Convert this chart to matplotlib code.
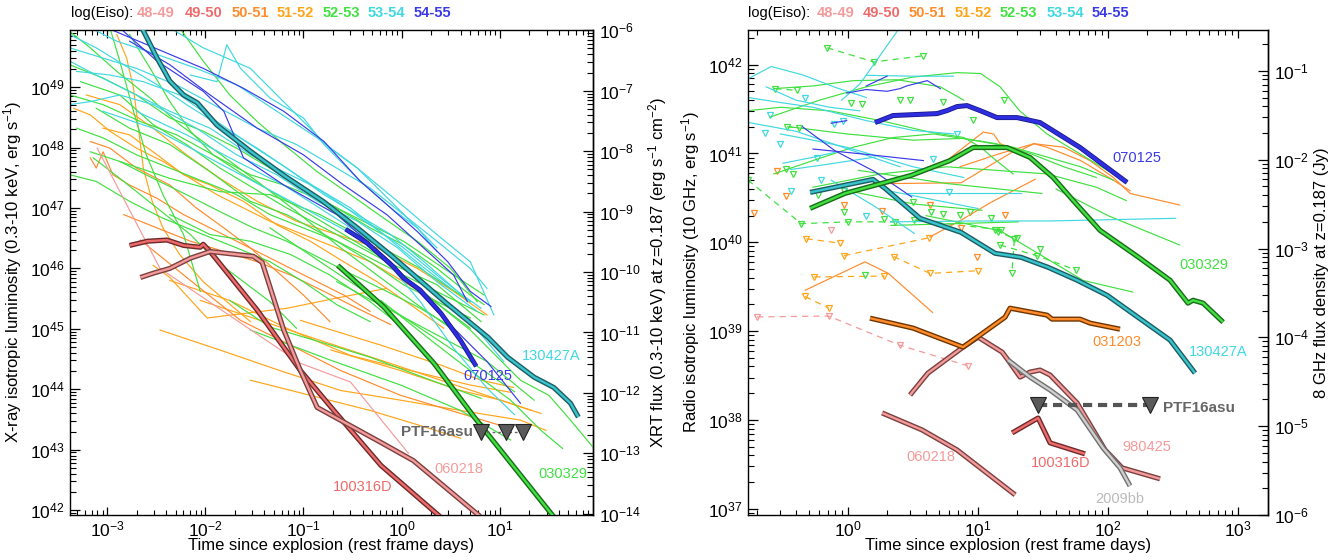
import numpy as np
import matplotlib
matplotlib.use("Agg")
import matplotlib.pyplot as plt
import matplotlib.patheffects as pe
from matplotlib.ticker import LogLocator, NullFormatter

plt.rcParams["font.family"] = ["Liberation Sans", "DejaVu Sans"]
plt.rcParams["mathtext.fontset"] = "custom"
plt.rcParams["mathtext.rm"] = "Liberation Sans"
plt.rcParams["mathtext.it"] = "Liberation Sans:italic"
plt.rcParams["mathtext.bf"] = "Liberation Sans:bold"
plt.rcParams["axes.linewidth"] = 1.0

# log(Eiso) bins and their colours
EISO_BINS = ["48-49", "49-50", "50-51", "51-52", "52-53", "53-54", "54-55"]
C48, C49, C50, C51, C52, C53, C54 = ("#f59a9a", "#ee6b6b", "#ff8b2b", "#ffa51a",
                                     "#40e040", "#40d8e0", "#3a3ae8")
EISO_COLORS = [C48, C49, C50, C51, C52, C53, C54]

XRT_K = 10 ** 55.94      # 4 pi d_L^2 at z=0.187 (cm^2): L -> XRT flux
RADIO_K = 10 ** 42.93    # erg/s per Jy at z=0.187 (10 GHz): L -> flux density

# ---------------- X-ray light curves: (log10 t [d], log10 L [erg/s]) ----------------
XR_BLUE = [
    ([-3.00, -2.02, -1.61, -1.20, -0.79, -0.42, -0.11, 0.16, 0.47, 0.70, 0.91],
     [49.98, 49.31, 48.98, 48.60, 48.10, 47.44, 47.00, 46.61, 46.11, 45.62, 45.37]),
    ([-2.87, -2.49, -2.02, -1.81, -1.61, -1.20, -0.66, -0.11, 0.36, 0.87, 1.21],
     [49.98, 49.43, 48.93, 48.60, 47.83, 47.38, 46.89, 46.11, 45.29, 44.46, 43.77]),
    ([-2.77, -2.36, -1.95, -1.47, -1.00, -0.59, -0.15, 0.19, 0.53, 0.67],
     [49.76, 49.37, 48.87, 48.32, 47.88, 47.38, 46.89, 46.39, 45.89, 45.45]),
]
XR_CYAN = [
    ([-2.15, -1.88, -1.78, -1.64, -1.34, -1.00, -0.79, -0.45, -0.11, 0.16, 0.36],
     [49.20, 49.09, 49.70, 49.31, 48.82, 48.49, 48.05, 47.49, 47.00, 46.67, 46.28]),
    ([-3.38, -3.04, -2.70, -2.26, -1.85, -1.47, -1.07, -0.66, -0.32, 0.02, 0.36, 0.70, 0.87],
     [49.65, 49.48, 49.31, 49.01, 48.65, 48.32, 48.05, 47.66, 47.33, 46.89, 46.45, 46.00, 45.67]),
    ([-3.38, -3.17, -2.87, -2.53, -2.09, -1.68, -1.27, -0.86, -0.45, -0.04, 0.36, 0.77],
     [48.71, 48.76, 48.87, 48.71, 48.32, 47.88, 47.55, 47.11, 46.78, 46.34, 45.78, 45.29]),
    ([-3.38, -3.11, -2.83, -2.49, -2.19, -1.81, -1.47, -1.07, -0.66, -0.32, 0.02, 0.36, 0.70],
     [49.87, 49.65, 49.37, 49.04, 48.71, 48.32, 47.99, 47.55, 47.11, 46.72, 46.34, 45.89, 45.45]),
    ([-3.31, -2.97, -2.63, -2.26, -1.88, -1.54, -1.17, -0.79, -0.45, -0.11, 0.23, 0.57, 0.81],
     [49.26, 49.20, 49.09, 48.87, 48.43, 48.05, 47.66, 47.22, 46.89, 46.56, 46.11, 45.62, 45.34]),
    ([-3.38, -3.11, -2.70, -2.36, -1.95, -1.54, -1.20, -0.86, -0.52, -0.18, 0.19, 0.50],
     [49.43, 49.20, 48.87, 48.60, 48.32, 47.88, 47.60, 47.33, 47.00, 46.56, 46.06, 45.67]),
    ([-3.17, -2.90, -2.49, -2.09, -1.68, -1.27, -0.86, -0.45, -0.04, 0.36, 0.70, 0.94],
     [49.98, 49.76, 49.54, 49.31, 49.04, 48.60, 48.16, 47.66, 47.11, 46.56, 46.11, 45.23]),
    ([-2.36, -2.02, -1.54, -1.27, -1.00, -0.73, -0.45, -0.11, 0.16, 0.36],
     [49.98, 49.65, 49.31, 48.87, 48.43, 47.99, 47.66, 47.11, 46.67, 46.34]),
    ([-3.04, -2.53, -2.02, -1.51, -1.00, -0.49, -0.15, 0.19, 0.53, 0.87, 1.15],
     [48.60, 48.32, 47.88, 47.44, 47.00, 46.56, 46.11, 45.45, 44.68, 44.02, 43.58]),
    ([-2.70, -2.19, -1.68, -1.20, -0.73, -0.25, 0.23, 0.70, 1.04],
     [48.60, 48.21, 47.77, 47.38, 46.89, 46.39, 45.78, 45.12, 44.46]),
]
XR_GREEN = [
    ([-3.38, -3.04, -2.70, -2.36, -2.02, -1.68, -1.34, -1.00, -0.66, -0.32, 0.02, 0.36, 0.70, 0.84],
     [49.37, 49.15, 48.87, 48.49, 48.27, 47.99, 47.66, 47.33, 47.00, 46.67, 46.39, 46.00, 45.56, 45.40]),
    ([-3.27, -2.87, -2.53, -2.19, -1.85, -1.51, -1.17, -0.66, -0.15, 0.36, 0.81],
     [49.09, 48.87, 48.38, 48.05, 47.66, 47.33, 47.00, 46.56, 46.11, 45.73, 45.12]),
    ([-3.31, -3.04, -2.70, -2.36, -2.02, -1.68, -1.34, -1.00, -0.66, -0.32, 0.02, 0.36, 0.70],
     [48.32, 48.16, 47.88, 47.66, 47.44, 47.22, 46.89, 46.67, 46.45, 46.11, 45.73, 45.45, 45.18]),
    ([-3.17, -2.87, -2.53, -2.19, -1.85, -1.51, -1.17, -0.83, -0.49, -0.15, 0.19, 0.53],
     [47.93, 47.77, 47.49, 47.22, 46.94, 46.67, 46.45, 46.17, 45.89, 45.62, 45.34, 45.01]),
    ([-2.97, -2.87, -2.73, -2.60, -2.43, -2.22, -2.05],
     [49.98, 49.43, 48.60, 47.88, 47.22, 46.56, 45.62]),
    ([-3.38, -3.17, -2.90, -2.56, -2.26, -1.88, -1.47, -1.07, -0.66, -0.25, 0.16, 0.50],
     [49.92, 49.65, 49.26, 48.82, 48.38, 47.93, 47.44, 46.94, 46.39, 45.89, 45.40, 45.01]),
    ([-3.11, -2.77, -2.36, -1.95, -1.54, -1.17, -0.79, -0.39, 0.02, 0.43, 0.84],
     [48.65, 48.32, 48.05, 47.60, 47.11, 46.89, 46.56, 46.23, 45.89, 45.56, 45.23]),
    ([-2.87, -2.36, -1.85, -1.34, -0.83, -0.32, 0.19, 0.70],
     [47.77, 47.49, 47.27, 47.22, 46.89, 46.45, 46.00, 45.45]),
    ([-3.38, -3.11, -2.77, -2.43, -2.02, -1.68, -1.34, -1.00, -0.66, -0.32],
     [47.55, 47.44, 47.11, 46.83, 46.56, 46.34, 46.11, 45.78, 45.40, 45.12]),
    ([-2.26, -2.02, -1.75, -1.47, -1.20, -0.86, -0.52, -0.18, 0.16, 0.50, 0.77],
     [49.98, 49.43, 48.87, 48.43, 48.05, 47.60, 47.22, 46.83, 46.45, 46.00, 45.45]),
    ([-3.14, -2.83, -2.49, -2.15, -1.88, -1.61, -1.34, -1.07],
     [47.83, 47.44, 47.00, 46.56, 46.11, 45.78, 45.45, 45.01]),
    ([-2.36, -1.95, -1.54, -1.13, -0.73, -0.32, 0.02],
     [46.89, 46.56, 46.45, 46.23, 45.89, 45.45, 45.01]),
    ([-2.77, -2.56, -2.36, -2.15, -1.92, -1.61, -1.27, -0.93, -0.59, -0.25, 0.09, 0.43, 0.70],
     [49.87, 49.31, 48.76, 48.27, 47.88, 47.55, 47.22, 46.89, 46.56, 46.23, 45.78, 45.34, 45.01]),
    ([-3.38, -3.04, -2.66, -2.29, -1.92, -1.54, -1.20, -0.79, -0.39, 0.02, 0.43, 0.84],
     [48.87, 48.71, 48.43, 48.21, 47.88, 47.55, 47.38, 47.11, 46.78, 46.45, 46.00, 45.56]),
    ([-1.34, -0.83, -0.32, 0.19, 0.70, 1.15],
     [46.67, 46.11, 45.56, 45.01, 44.46, 43.96]),
    ([-0.66, -0.15, 0.36, 0.87, 1.35],
     [45.78, 45.34, 44.90, 44.46, 43.82]),
    ([0.19, 0.70, 1.21, 1.50, 1.72, 1.95],
     [45.64, 44.98, 44.15, 43.90, 43.49, 43.04]),
    ([-0.21, 0.30, 0.70, 1.11, 1.42, 1.64],
     [45.47, 44.81, 44.31, 43.82, 43.32, 43.02]),
    ([-1.54, -0.72, -0.01, 0.60, 1.11],
     [44.98, 44.48, 44.07, 43.65, 43.16]),
    ([-1.75, -1.34, -0.72, -0.32, 0.30, 0.81],
     [45.47, 45.03, 44.73, 44.53, 44.15, 43.85]),
]
XR_ORANGE = [
    ([-3.34, -3.17, -2.97, -2.70, -2.43, -2.15, -1.88, -1.61, -1.34, -1.00, -0.66, -0.32, 0.02, 0.36],
     [48.65, 48.54, 48.27, 47.99, 47.77, 47.49, 47.22, 47.00, 46.78, 46.56, 46.34, 46.11, 45.78, 45.45]),
    ([-2.90, -2.80, -2.73, -2.68, -2.63, -2.54, -2.43, -2.26, -2.02, -1.78, -1.54],
     [49.87, 49.48, 48.98, 48.32, 47.66, 47.11, 46.67, 46.23, 45.78, 45.45, 45.12]),
    ([-3.21, -2.87, -2.53, -2.19, -1.85, -1.47, -1.07, -0.66, -0.25, 0.16, 0.53, 0.87],
     [48.87, 48.71, 48.32, 47.88, 47.49, 47.11, 46.78, 46.56, 46.34, 46.00, 45.62, 45.23]),
    ([-3.04, -2.77, -2.49, -2.22, -1.95, -1.61, -1.27, -0.93, -0.59, -0.25, 0.09, 0.43],
     [48.32, 48.21, 47.88, 47.55, 47.38, 47.11, 46.72, 46.45, 46.11, 45.78, 45.40, 45.01]),
    ([-2.46, -1.85, -1.24, -0.62, -0.01, 0.60, 1.21, 1.47],
     [44.98, 44.65, 44.31, 43.98, 43.82, 43.65, 43.49, 43.32]),
    ([-2.05, -1.44, -0.83, -0.21, 0.40, 1.01, 1.32],
     [45.47, 45.14, 44.81, 44.48, 44.15, 43.82, 43.65]),
    ([-2.36, -1.75, -1.13, -0.52, 0.09, 0.70, 1.11],
     [45.80, 45.47, 44.98, 44.56, 44.31, 44.07, 43.95]),
    ([-1.54, -0.93, -0.32, 0.19, 0.60],
     [44.15, 43.90, 43.65, 43.40, 43.19]),
    ([-1.03, -0.21, 0.40, 0.81, 1.14],
     [45.14, 44.73, 44.40, 44.15, 44.03]),
    ([-0.72, -0.01, 0.60, 1.01, 1.42],
     [44.65, 44.31, 43.98, 43.82, 43.60]),
    ([-2.53, -2.36, -1.98, -1.17, -0.66, -0.15],
     [46.05, 45.85, 45.18, 45.34, 45.51, 45.67]),
]
XR_ORANGE_DARK = [
    ([-3.17, -3.11, -3.04, -2.94, -2.77, -2.49, -2.22, -1.95, -1.68, -1.41, -1.13, -0.86, -0.59, -0.32],
     [47.83, 47.66, 47.93, 47.55, 47.38, 47.16, 46.89, 46.67, 46.45, 46.23, 46.00, 45.78, 45.56, 45.29]),
    ([-2.83, -2.49, -2.15, -1.81, -1.47, -1.13, -0.79, -0.45, -0.11],
     [46.89, 46.67, 46.45, 46.28, 46.11, 45.89, 45.62, 45.34, 45.07]),
    ([-3.17, -2.97, -2.70, -2.36, -2.09, -1.81, -1.54, -1.27, -1.00, -0.73],
     [48.10, 47.99, 47.66, 47.38, 47.00, 46.67, 46.34, 45.95, 45.56, 45.12]),
    ([-2.66, -2.15, -1.64, -1.13, -0.62, -0.01, 0.50, 1.01],
     [46.47, 45.80, 45.14, 44.73, 44.31, 43.90, 43.65, 43.40]),
]
XR_PINK = [
    ([-3.10, -2.46, -1.56, -1.03, -0.52, 0.07],
     [47.99, 46.00, 45.01, 44.43, 44.12, 42.94]),
]

# highlighted X-ray events
XR_130427A_T = [-2.66, -2.49, -2.36, -2.22, -2.08, -1.88, -1.54, -1.20, -0.80, -0.45,
                -0.11, 0.16, 0.43, 0.67, 0.88, 1.08, 1.35, 1.55, 1.72, 1.80]
XR_130427A_L = [50.03, 49.48, 49.10, 48.87, 48.74, 48.37, 47.94, 47.54, 47.11, 46.67,
                46.22, 45.84, 45.46, 45.14, 44.86, 44.53, 44.20, 44.03, 43.77, 43.54]
XR_070125_T = [-0.57, -0.35, -0.08, 0.02, 0.19, 0.40, 0.60, 0.76]
XR_070125_L = [46.65, 46.42, 46.02, 45.84, 45.64, 45.26, 44.81, 44.38]
XR_030329_T = [-0.65, -0.18, 0.33, 0.74, 1.54, 1.62]
XR_030329_L = [46.05, 45.36, 44.43, 43.54, 41.91, 41.76]
XR_100316D_T = [-2.77, -2.59, -2.39, -2.22, -2.05, -2.02, -1.95, -1.47, -1.03, -0.69, -0.21, 0.38, 0.50]
XR_100316D_L = [46.38, 46.45, 46.47, 46.38, 46.35, 46.40, 46.28, 45.31, 44.31, 43.65, 42.74, 41.91, 41.67]
XR_060218_T = [-2.66, -2.53, -2.36, -2.15, -1.95, -1.51, -1.42, -1.20, -1.03, -0.86, -0.21, 0.12, 0.79, 0.91]
XR_060218_L = [45.85, 45.92, 46.00, 46.17, 46.28, 46.20, 46.10, 44.98, 44.31, 43.70, 43.12, 42.82, 41.91, 41.67]
PTF_X_T = [0.81, 1.06, 1.24]
PTF_X_L = [43.29, 43.29, 43.29]

# ---------------- radio light curves: (log10 t [d], log10 L [erg/s]) ----------------
RA_CYAN = [
    ([-0.77, -0.59, -0.34, -0.09, 0.14], [41.84, 41.98, 41.88, 41.74, 41.63]),
    ([-0.77, -0.55, -0.27, 0.14, 0.50, 0.81], [41.63, 41.58, 41.52, 41.37, 41.26, 41.22]),
    ([-0.63, -0.40, -0.14, 0.09], [41.75, 41.60, 41.52, 41.48]),
    ([-0.52, -0.27, -0.01, 0.25, 0.50, 0.89], [41.22, 41.15, 41.07, 40.96, 40.85, 40.73]),
    ([0.14, 0.50, 0.81], [41.88, 41.87, 41.87]),
    ([-0.05, 0.09, 0.38], [41.60, 41.78, 42.38]),
    ([-0.50, -0.26, -0.08], [40.89, 40.96, 41.02]),
    ([-0.44, -0.15, 0.21], [40.82, 40.88, 40.96]),
    ([-0.13, 0.21, 0.51], [40.70, 40.40, 40.10]),
    ([0.31, 1.00], [40.58, 40.38]),
    ([0.46, 1.33], [40.55, 40.55]),
    ([0.33, 1.00, 1.54, 2.52], [40.23, 40.24, 40.24, 40.27]),
    ([-0.77, -0.40, 0.00, 0.40], [41.35, 41.25, 41.05, 40.85]),
]
RA_GREEN = [
    ([-0.57, -0.27, 0.04, 0.38, 0.71, 0.89], [41.73, 41.76, 41.82, 41.83, 41.75, 41.60]),
    ([-0.60, -0.22, 0.14, 0.50, 0.84, 1.02, 1.17, 1.32, 1.53, 1.79, 2.04],
     [41.41, 41.60, 41.75, 41.86, 41.91, 41.90, 41.75, 41.48, 41.22, 40.99, 40.77]),
    ([-0.57, -0.27, 0.04, 0.35, 0.66, 0.96, 1.27, 1.53, 1.79, 2.04],
     [40.77, 40.92, 41.07, 41.18, 41.22, 41.15, 41.07, 40.96, 40.85, 40.70]),
    ([-0.45, -0.01, 0.50, 0.89, 1.14, 1.40, 1.66, 1.91],
     [41.30, 41.22, 41.15, 41.17, 41.11, 41.00, 40.85, 40.73]),
    ([-0.78, -0.52, -0.14, 0.25, 0.63, 0.89, 1.02, 1.14, 1.27],
     [41.48, 41.52, 41.48, 41.37, 41.24, 41.18, 41.07, 40.92, 40.77]),
    ([-0.27, 0.25, 0.76, 1.14, 1.53, 1.91, 2.14], [40.62, 40.77, 40.85, 40.81, 40.77, 40.62, 40.47]),
    ([0.33, 1.31], [40.19, 40.23]),
    ([0.60, 1.17, 1.81, 2.19], [40.30, 40.13, 39.57, 39.44]),
    ([0.00, 0.51, 1.03], [40.58, 40.43, 40.36]),
    ([0.08, 0.77, 1.49], [40.81, 40.66, 40.55]),
    ([1.60, 2.00, 2.55], [40.60, 40.30, 39.97]),
]
RA_ORANGE = [
    ([0.50, 0.76, 0.96, 1.04, 1.12, 1.17, 1.32, 1.43, 1.53, 1.79, 2.04, 2.17],
     [40.77, 40.92, 41.15, 41.24, 41.22, 41.11, 41.03, 41.11, 41.07, 40.92, 40.70, 40.58]),
    ([0.86, 1.17, 1.43, 1.66, 1.86, 2.04, 2.17, 2.55],
     [40.85, 41.00, 41.11, 41.07, 40.92, 40.73, 40.55, 40.42]),
    ([0.26, 0.87, 1.28], [40.66, 40.67, 41.03]),
    ([0.63, 0.87, 1.10, 1.44], [40.06, 40.25, 40.45, 40.71]),
    ([-0.33, 0.13, 0.31, 0.65], [39.46, 39.78, 39.65, 39.21]),
]
RA_BLUE = [
    ([-0.01, 0.14, 0.30, 0.40, 0.45, 0.61, 0.71], [41.68, 41.72, 41.70, 41.73, 41.76, 41.82, 41.73]),
    ([-0.27, 0.14, 0.58], [41.05, 40.99, 40.92]),
    ([-0.35, -0.10, 0.20, 0.49], [41.30, 41.03, 40.80, 40.51]),
    ([-0.13, -0.01], [41.34, 41.37]),
    ([0.14, 0.30], [41.76, 41.87]),
]

# upper limits joined by dashes
LIM_PINK = [([-0.70, -0.15, 0.40, 0.92], [39.16, 39.17, 38.84, 38.61])]
LIM_ORANGE = [
    ([-0.32, -0.06], [40.04, 39.99]),
    ([-0.03, 0.62], [39.85, 40.05]),
    ([0.35, 0.63, 1.00], [39.84, 39.65, 39.68]),
    ([-0.26, 0.28], [39.61, 39.62]),
    ([-0.33, -0.15], [39.39, 39.26]),
]
LIM_GREEN = [
    ([-0.77, -0.36, 0.00, 0.36], [40.70, 40.21, 40.23, 40.23]),
    ([-0.16, 0.20, 0.58], [42.19, 42.03, 42.10]),
    ([-0.56, -0.39], [41.73, 41.71]),
    ([1.13, 1.28, 1.26], [40.14, 40.04, 39.65]),
    ([1.17, 1.45, 1.75], [39.97, 39.85, 39.69]),
    ([-0.47, -0.38], [41.30, 41.29]),
    ([0.51, 1.18], [40.25, 40.14]),
]
# isolated upper limits
UL_CYAN_T = [-0.24, -0.21, -0.44, 0.14, 0.65, 0.78, -0.60, -0.64, -0.52, -0.33, -0.11, -0.04, 0.84]
UL_CYAN_L = [40.95, 40.70, 40.58, 40.30, 40.94, 40.57, 41.43, 41.23, 41.11, 41.63, 41.33, 41.37, 41.22]
UL_GREEN_T = [-0.48, -0.42, -0.23, -0.03, 0.50, 0.64, 0.73, 0.86, 0.94, 1.10, 1.15, 1.30,
              1.48, 0.28, -0.03, 0.02, 0.11, 0.40, 0.48, 0.73, 0.96, 1.20, 0.13]
UL_GREEN_L = [40.82, 40.77, 40.53, 40.34, 40.45, 40.34, 40.32, 40.31, 40.34, 40.27, 40.12, 40.05,
              39.93, 40.26, 40.58, 41.57, 41.56, 41.60, 41.60, 41.58, 41.38, 41.60, 39.63]
UL_ORANGE_T = [-0.55, -0.48, -0.03, 0.63, 1.21, 0.87, 0.99, 0.26, -0.72]
UL_ORANGE_L = [40.80, 40.52, 40.42, 40.42, 40.31, 40.16, 39.84, 40.35, 40.33]
UL_PINK_T = [-0.13]
UL_PINK_L = [40.14]

# highlighted radio events
RA_070125_T = [0.208, 0.346, 0.685, 0.762, 0.838, 0.915, 1.015, 1.146, 1.300, 1.477, 1.785, 2.146]
RA_070125_L = [41.348, 41.427, 41.449, 41.483, 41.528, 41.539, 41.483, 41.404, 41.404, 41.348, 41.067, 40.674]
RA_030329_T = [-0.292, -0.023, 0.485, 0.785, 0.962, 1.223, 1.400, 1.577, 1.731, 1.938,
               2.246, 2.477, 2.615, 2.654, 2.731, 2.885]
RA_030329_L = [40.382, 40.551, 40.753, 40.921, 41.067, 41.067, 40.955, 40.730, 40.472, 40.135,
               39.820, 39.573, 39.315, 39.348, 39.315, 39.101]
RA_130427A_T = [-0.292, 0.192, 0.285, 0.554, 0.869, 1.131, 1.331, 1.538, 1.762, 1.992, 2.477, 2.669]
RA_130427A_L = [40.562, 40.708, 40.607, 40.270, 40.112, 39.876, 39.831, 39.719, 39.573, 39.404, 38.899, 38.528]
RA_031203_T = [0.169, 0.500, 0.885, 1.015, 1.208, 1.246, 1.531, 1.569, 1.785, 1.862, 2.092]
RA_031203_L = [39.146, 39.034, 38.820, 38.955, 39.157, 39.258, 39.180, 39.135, 39.135, 39.090, 39.022]
RA_980425_T = [0.477, 0.615, 0.885, 1.000, 1.185, 1.231, 1.323, 1.400, 1.477, 1.554, 1.762, 1.977, 2.108, 2.400]
RA_980425_L = [38.281, 38.528, 38.820, 38.933, 38.764, 38.674, 38.483, 38.539, 38.562, 38.506,
               38.191, 37.663, 37.461, 37.337]
RA_2009BB_T = [1.231, 1.400, 1.554, 1.762, 1.962, 2.092, 2.169]
RA_2009BB_L = [38.674, 38.483, 38.337, 38.112, 37.685, 37.461, 37.258]
RA_100316D_T = [1.262, 1.462, 1.554, 1.823]
RA_100316D_L = [37.854, 38.022, 37.742, 37.618]
RA_060218_T = [0.262, 0.569, 0.838, 1.285]
RA_060218_L = [38.079, 37.888, 37.663, 37.157]
PTF_R_T = [1.462, 2.323]
PTF_R_L = [38.17, 38.17]


def thin(ax, group, color, lw=0.85):
    for lt, ll in group:
        ax.plot(np.power(10.0, lt), np.power(10.0, ll), color=color, lw=lw,
                solid_joinstyle="round")


def bold(ax, lt, ll, color, edge, core=1.7, width=3.7):
    ax.plot(np.power(10.0, lt), np.power(10.0, ll), color=color, lw=core,
            solid_joinstyle="round", solid_capstyle="butt", zorder=5,
            path_effects=[pe.Stroke(linewidth=width, foreground=edge), pe.Normal()])


def limits(ax, group, color):
    for lt, ll in group:
        ax.plot(np.power(10.0, lt), np.power(10.0, ll), color=color, lw=0.9,
                ls=(0, (5, 4)), marker="v", ms=4.6, mfc="none", mec=color, mew=0.9)


def singles(ax, lt, ll, color):
    ax.plot(np.power(10.0, lt), np.power(10.0, ll), ls="none", marker="v", ms=4.6,
            mfc="none", mec=color, mew=0.9)


def style(ax, xlim, ylim, k, ylabel, rlabel):
    ax.set_xscale("log")
    ax.set_yscale("log")
    ax.set_xlim(*xlim)
    ax.set_ylim(*ylim)
    for axis in (ax.xaxis, ax.yaxis):
        axis.set_major_locator(LogLocator(10, numticks=30))
        axis.set_minor_locator(LogLocator(10, subs=np.arange(2, 10), numticks=200))
        axis.set_minor_formatter(NullFormatter())
    ax.tick_params(which="both", direction="in", top=True, right=False, labelsize=12.5)
    ax.tick_params(axis="x", which="major", length=6, width=0.9, pad=3)
    ax.tick_params(axis="x", which="minor", length=3.5, width=0.8)
    ax.tick_params(axis="y", which="major", length=7.5, width=0.9, pad=4)
    ax.tick_params(axis="y", which="minor", length=4, width=0.8)
    ax.set_xlabel("Time since explosion (rest frame days)", fontsize=12, labelpad=-1)
    ax.set_ylabel(ylabel, fontsize=12, labelpad=4)

    sec = ax.secondary_yaxis("right", functions=(lambda v: v / k, lambda v: v * k))
    sec.yaxis.set_major_locator(LogLocator(10, numticks=30))
    sec.yaxis.set_minor_locator(LogLocator(10, subs=np.arange(2, 10), numticks=200))
    sec.yaxis.set_minor_formatter(NullFormatter())
    sec.tick_params(which="both", direction="in", labelsize=12.5)
    sec.tick_params(which="major", length=7.5, width=0.9, pad=4)
    sec.tick_params(which="minor", length=4, width=0.8)
    sec.set_ylabel(rlabel, fontsize=12, labelpad=4)


def eiso_legend(fig, xs):
    y = 1 - 13 / 560
    fig.text(xs[0], y, "log(Eiso):", fontsize=10.5, va="center", ha="left")
    for x, lab, c in zip(xs[1:], EISO_BINS, EISO_COLORS):
        fig.text(x, y, lab, fontsize=10.5, va="center", ha="left", color=c,
                 fontweight="bold")


W, H = 1337, 560
fig = plt.figure(figsize=(W / 100, H / 100), dpi=100)
ax1 = fig.add_axes([70 / W, 1 - 515 / H, 523 / W, 485 / H])
ax2 = fig.add_axes([748 / W, 1 - 515 / H, 520 / W, 485 / H])

# ---- left: X-ray ----
thin(ax1, XR_ORANGE, C51)
thin(ax1, XR_ORANGE_DARK, C50)
thin(ax1, XR_GREEN, C52)
thin(ax1, XR_CYAN, C53)
thin(ax1, XR_BLUE, C54)
thin(ax1, XR_PINK, C48)
bold(ax1, XR_100316D_T, XR_100316D_L, C49, "#6e2a2a")
bold(ax1, XR_060218_T, XR_060218_L, C48, "#7a4040")
bold(ax1, XR_030329_T, XR_030329_L, C52, "#1a6a1a")
bold(ax1, XR_130427A_T, XR_130427A_L, "#38c4cc", "#1d5d62")
bold(ax1, XR_070125_T, XR_070125_L, "#2e2ee0", "#1a1a8a", core=2.2, width=3.4)
ax1.plot(np.power(10.0, PTF_X_T), np.power(10.0, PTF_X_L), color="#666666", lw=1,
         ls=(0, (2, 2)), marker="v", ms=11, mfc="#5a5a5a", mec="#222222", mew=0.8, zorder=6)

ax1.text(33, 3.6e44, "130427A", color=C53, fontsize=10.5, ha="center", va="center")
ax1.text(7.55, 1.66e44, "070125", color=C54, fontsize=10.5, ha="center", va="center")
ax1.text(5.3, 1.95e43, "PTF16asu", color="#666666", fontsize=11, fontweight="bold",
         ha="right", va="center")
ax1.text(3.82, 4.8e42, "060218", color=C48, fontsize=10.5, ha="center", va="center")
ax1.text(44, 3.9e42, "030329", color=C52, fontsize=10.5, ha="center", va="center")
ax1.text(0.40, 2.4e42, "100316D", color=C49, fontsize=10.5, ha="center", va="center")

style(ax1, (4.2e-4, 89), (10 ** 41.92, 10 ** 49.945), XRT_K,
      "X-ray isotropic luminosity (0.3-10 keV, erg s$^{-1}$)",
      "XRT flux (0.3-10 keV) at z=0.187 (erg s$^{-1}$ cm$^{-2}$)")

# ---- right: radio ----
limits(ax2, LIM_PINK, C48)
limits(ax2, LIM_ORANGE, C51)
limits(ax2, LIM_GREEN, C52)
singles(ax2, UL_CYAN_T, UL_CYAN_L, C53)
singles(ax2, UL_GREEN_T, UL_GREEN_L, C52)
singles(ax2, UL_ORANGE_T, UL_ORANGE_L, C50)
singles(ax2, UL_PINK_T, UL_PINK_L, C48)
thin(ax2, RA_ORANGE, C50)
thin(ax2, RA_GREEN, C52)
thin(ax2, RA_CYAN, C53)
thin(ax2, RA_BLUE, C54)
bold(ax2, RA_060218_T, RA_060218_L, C48, "#7a4040")
bold(ax2, RA_100316D_T, RA_100316D_L, C49, "#6e2a2a")
bold(ax2, RA_980425_T, RA_980425_L, C48, "#7a4040")
bold(ax2, RA_2009BB_T, RA_2009BB_L, "#cfcfcf", "#707070")
bold(ax2, RA_031203_T, RA_031203_L, C50, "#6e3500")
bold(ax2, RA_130427A_T, RA_130427A_L, "#38c4cc", "#1d5d62")
bold(ax2, RA_030329_T, RA_030329_L, C52, "#1a6a1a")
bold(ax2, RA_070125_T, RA_070125_L, "#2e2ee0", "#1a1a8a", core=2.4, width=3.6)
ax2.plot(np.power(10.0, PTF_R_T), np.power(10.0, PTF_R_L), color="#555555", lw=3,
         ls=(0, (2.2, 1.4)), marker="v", ms=11, mfc="#5a5a5a", mec="#222222", mew=0.8,
         zorder=6)

ax2.text(167, 9.0e40, "070125", color=C54, fontsize=10.5, ha="center", va="center")
ax2.text(547, 5.6e39, "030329", color=C52, fontsize=10.5, ha="center", va="center")
ax2.text(702, 5.8e38, "130427A", color=C53, fontsize=10.5, ha="center", va="center")
ax2.text(117, 7.6e38, "031203", color=C50, fontsize=10.5, ha="center", va="center")
ax2.text(265, 1.35e38, "PTF16asu", color="#666666", fontsize=11, fontweight="bold",
         ha="left", va="center")
ax2.text(200, 4.9e37, "980425", color=C48, fontsize=10.5, ha="center", va="center")
ax2.text(43, 3.3e37, "100316D", color=C49, fontsize=10.5, ha="center", va="center")
ax2.text(4.3, 3.8e37, "060218", color=C48, fontsize=10.5, ha="center", va="center")
ax2.text(124, 1.3e37, "2009bb", color="#bbbbbb", fontsize=10.5, ha="center", va="center")

style(ax2, (0.17, 1700), (10 ** 36.93, 10 ** 42.39), RADIO_K,
      "Radio isotropic luminosity (10 GHz, erg s$^{-1}$)",
      "8 GHz flux density at z=0.187 (Jy)")

eiso_legend(fig, [70.7 / W, 137 / W, 185 / W, 232 / W, 277 / W, 323 / W, 368 / W, 414 / W])
eiso_legend(fig, [748 / W, 817 / W, 863 / W, 909 / W, 955 / W, 1000 / W, 1047 / W, 1092 / W])

fig.savefig("out.png", dpi=100)
plt.close(fig)
